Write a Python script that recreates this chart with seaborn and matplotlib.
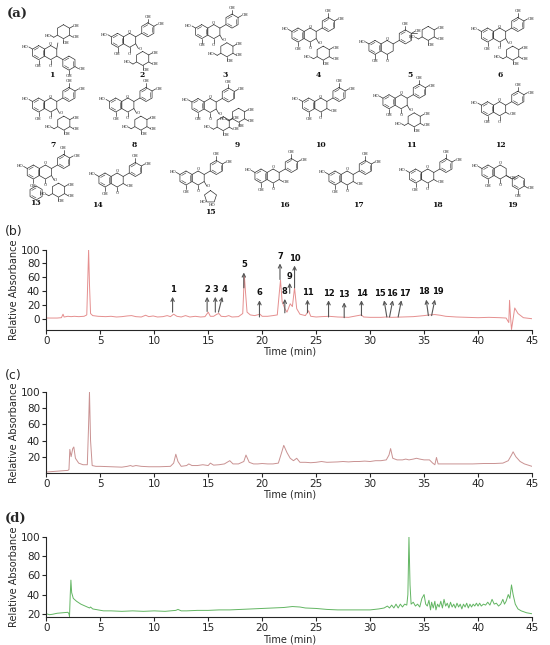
import math
import numpy as np
import pandas as pd
import matplotlib
matplotlib.use("Agg")
import matplotlib.pyplot as plt
import seaborn as sns

# ---------------- data ----------------
b_time = [0, 1.0, 1.4, 1.55, 1.65, 2.0, 2.3, 2.6, 3.0, 3.5, 3.75, 3.85, 3.92, 4.0, 4.1, 4.3, 4.8, 5.5, 6.0, 6.5,
          7.0, 7.5, 7.9, 8.3, 8.8, 9.2, 9.5, 9.9, 10.3, 10.8, 11.2, 11.5, 11.8, 12.1, 12.5, 12.9, 13.3, 13.8,
          14.3, 14.7, 15.0, 15.2, 15.5, 15.8, 16.0, 16.2, 16.6, 16.9, 17.2, 17.8, 18.2, 18.35, 18.45, 18.6,
          18.9, 19.3, 19.8, 20.0, 20.5, 21.0, 21.4, 21.6, 21.7, 21.85, 22.1, 22.3, 22.6, 22.8, 23.0, 23.2,
          23.5, 24.0, 24.3, 24.5, 25.0, 25.5, 26.2, 27.0, 28.0, 29.2, 29.4, 30.0, 31.0, 31.5, 32.0, 33.0,
          34.0, 35.0, 35.5, 36.0, 36.5, 37.0, 38.0, 39.0, 40.0, 41.0, 42.0, 42.6, 42.85, 42.92, 43.0, 43.1,
          43.2, 43.4, 43.7, 44.2, 45.0]
b_abs = [1.5, 1.5, 2, 7, 3, 4, 3.5, 4, 3.5, 4, 6, 60, 100, 50, 8, 5, 4, 3.5, 4, 3,
         3.5, 4.5, 5, 3.5, 3, 5.5, 3.5, 4.5, 3, 3.5, 5, 3.5, 7, 4, 3, 5, 3, 4,
         3, 3.5, 10, 4, 4, 7, 8, 4, 3.5, 5, 3, 3.5, 8, 63, 40, 10,
         6, 5, 7, 4, 4, 5, 6, 40, 56, 25, 15, 10, 22, 18, 45, 15,
         7, 5, 12, 4, 3, 3.5, 4, 3, 2.5, 6, 3, 2.5, 2.5, 3, 2.5, 3,
         3.5, 5, 6, 6.5, 5.5, 4, 3, 2.5, 2, 2.5, 2, 1.5, -5, 27, 5, -15,
         -5, 16, 8, 2, 0.5]

c_time = [0, 0.5, 1.0, 1.5, 2.0, 2.1, 2.18, 2.3, 2.45, 2.55, 2.7, 3.0, 3.4, 3.8, 3.92, 4.0, 4.1, 4.25, 4.6,
          5.0, 6.0, 7.0, 7.5, 7.8, 8.0, 8.3, 8.8, 9.5, 10.5, 11.5, 11.8, 12.0, 12.2, 12.5, 13.0, 13.2,
          13.5, 14.0, 14.5, 15.0, 15.2, 15.5, 16.0, 16.5, 17.0, 17.3, 17.8, 18.3, 18.5, 18.8, 19.2,
          19.6, 20.0, 20.5, 21.0, 21.5, 21.8, 22.0, 22.3, 22.6, 22.9, 23.2, 23.5, 24.0, 24.5, 25.0,
          25.5, 26.0, 27.0, 27.5, 28.0, 28.5, 29.0, 29.5, 30.0, 30.5, 31.0, 31.5, 31.75, 31.9, 32.1,
          32.5, 33.0, 33.3, 33.6, 34.0, 34.3, 34.6, 35.0, 35.5, 35.8, 36.0, 36.15, 36.3, 36.8, 37.5,
          38.5, 39.5, 40.5, 41.5, 42.3, 42.8, 43.1, 43.25, 43.5, 43.9, 44.3, 45.0]
c_abs = [1, 1.5, 2, 2.5, 3, 4, 29, 20, 30, 32, 18, 12, 10, 10, 60, 100, 40, 9, 8,
         8, 7.5, 7, 8, 9, 8, 9, 8, 7.5, 7.5, 8, 12, 23, 14, 8, 9, 11,
         9, 9, 10, 9, 12, 9.5, 10, 11, 15, 11, 11, 14, 22, 13, 11,
         11, 11.5, 11, 11, 12, 25, 34, 25, 18, 15, 18, 13, 13, 12.5, 13,
         14, 13, 13.5, 14, 13.5, 14, 14, 14.5, 14, 15, 15, 16, 22, 30, 18,
         16, 16, 17, 16, 17, 18, 17, 16, 16, 12, 10, 19, 11, 11, 11,
         11, 11, 11.5, 11.5, 12, 15, 22, 26, 20, 14, 11, 8]

d_time = [0, 0.3, 0.6, 1.0, 1.5, 2.0, 2.1, 2.15, 2.22, 2.28, 2.35, 2.5, 2.8, 3.2, 3.6, 4.0, 4.1, 4.3, 4.8,
          5.3, 6, 7, 8, 9, 10, 11, 12, 12.2, 12.5, 13, 14, 15, 16, 17, 18, 19, 20, 21, 22, 22.8, 23.5,
          24, 25, 26, 27, 28, 29, 30, 30.8, 31.3, 31.6, 31.8, 32.0, 32.2, 32.4, 32.6, 32.8, 33.0, 33.2,
          33.4, 33.5, 33.6, 33.7, 33.8, 34.0, 34.2, 34.4, 34.6, 34.8, 35.0, 35.15, 35.3, 35.45, 35.6,
          35.7, 35.85, 36.0, 36.1, 36.25, 36.4, 36.55, 36.7, 36.85, 37.0, 37.15, 37.3, 37.45, 37.6,
          37.75, 37.9, 38.05, 38.2, 38.35, 38.5, 38.65, 38.8, 38.95, 39.1, 39.25, 39.4, 39.55, 39.7,
          39.85, 40.0, 40.15, 40.3, 40.5, 40.7, 40.9, 41.1, 41.3, 41.5, 41.7, 41.9, 42.1, 42.3, 42.45,
          42.6, 42.8, 42.95, 43.1, 43.25, 43.45, 43.7, 44.0, 44.5, 45.0]
d_abs = [20, 19, 19.5, 20.5, 21, 21.5, 20, 17, 40, 55, 42, 36, 33, 30, 28, 26, 27, 25, 24,
         23, 23, 22.5, 23, 22.5, 23, 22.5, 23.5, 24.5, 23, 23, 23.5, 23.5, 24, 24, 24.5, 25, 25.5, 26, 26.5, 27.5, 27,
         26, 25.5, 24.5, 24, 24, 24, 24, 25, 26, 28, 26, 29, 26, 30, 26, 30, 27, 30,
         29, 40, 100, 50, 30, 32, 28, 30, 27, 36, 40, 30, 28, 34, 24,
         32, 26, 33, 24, 30, 27, 33, 26, 35, 28, 31, 26, 32, 27,
         30, 26, 31, 27, 30, 25, 30, 27, 31, 26, 30, 27, 30, 28,
         31, 28, 31, 28, 30, 29, 32, 29, 35, 30, 31, 28, 30, 35, 30,
         33, 40, 36, 50, 40, 30, 25, 23, 21, 20]

# peak annotations in (b): label, label x, arrow base x, base y, tip x, tip y, label y
pk_label = ["1", "2", "3", "4", "5", "6", "7", "8", "9", "10", "11", "12", "13", "14", "15", "16", "17", "18", "19"]
pk_lx = [11.7, 14.9, 15.7, 16.5, 18.3, 19.75, 21.65, 22.1, 22.55, 23.05, 24.2, 26.15, 27.6, 29.2, 30.9, 32.0, 33.2, 35.0, 36.3]
pk_bx = [11.7, 14.9, 15.66, 15.95, 18.3, 19.75, 21.65, 22.1, 22.55, 23.0, 24.2, 26.15, 27.6, 29.2, 31.55, 31.8, 32.6, 35.4, 35.7]
pk_by = [10, 11, 10, 10, 45, 3, 57, 9, 37, 45, 9, 3, 2, 5, 3, 3, 3, 5, 5]
pk_tx = [11.7, 14.9, 15.66, 16.3, 18.3, 19.75, 21.65, 22.1, 22.55, 23.0, 24.2, 26.15, 27.6, 29.2, 31.3, 32.1, 32.9, 35.2, 36.0]
pk_ty = [32, 32, 32, 32, 67, 27, 80, 29, 52, 77, 28, 27, 24, 27, 27, 27, 27, 28, 28]
pk_ly = [42, 42, 42, 42, 78, 38, 90, 40, 62, 87, 38, 37, 35, 37, 37, 37, 37, 39, 39]

x_ticks = [0, 5, 10, 15, 20, 25, 30, 35, 40, 45]

# compounds shown in panel (a): number, ring-A centre (px), ring-B direction, sugar type, label position (px)
cmp_num = [str(i) for i in range(1, 20)]
cmp_x = [38.6, 117.5, 201.7, 298, 375, 487.5, 38.6, 115.7, 198, 308.7, 389, 487.5, 33.3, 105, 186, 261, 335, 415.6, 488]
cmp_y = [52.6, 40.3, 31.6, 35, 47.4, 35, 105, 105, 105.5, 105, 101.7, 108.7, 172, 180, 178, 176, 178, 176, 172]
cmp_dir = ["down", "up", "up", "up", "up", "up", "up", "up", "up", "up", "up", "up", "up", "up", "up", "up", "up", "up", "down"]
cmp_sugar = ["above", "below", "below", "below", "ringB", "below", "below", "below", "below2", "none", "below", "none",
             "benz", "none", "ring5", "none", "none", "none", "none"]
cmp_lx = [52, 142, 225.5, 318, 410, 500, 52.6, 134, 237, 320, 411, 500.5, 35, 97, 210, 284, 358, 437, 512]
cmp_ly = [74.7, 74.7, 74.7, 74.7, 74.7, 74.7, 145, 145, 145, 145, 145, 145, 203, 205.4, 211.7, 205.4, 205.4, 205.4, 205.4]

# ---------------- style ----------------
sns.set_style("ticks")
plt.rcParams['font.family'] = ['DejaVu Sans']
plt.rcParams['axes.linewidth'] = 0.8

fig = plt.figure(figsize=(5.5, 6.45), dpi=100)
W, H = 550.0, 645.0


def add_axes_px(left, top, right, bottom):
    return fig.add_axes([left / W, 1 - bottom / H, (right - left) / W, (bottom - top) / H])


# ---------------- panel (a): structure sketches ----------------
axa = fig.add_axes([0, 1 - 222 / H, 1, 222 / H])
axa.set_xlim(0, W)
axa.set_ylim(222, 0)
axa.axis("off")
SC = "#333333"
R = 7.0
SER = ["DejaVu Serif"]


def hexv(cx, cy, r):
    return [(cx + r * math.cos(math.radians(a)), cy - r * math.sin(math.radians(a)))
            for a in (90, 150, 210, 270, 330, 30)]


def ring(cx, cy, r=R, arom=True):
    v = hexv(cx, cy, r)
    xs = [p[0] for p in v] + [v[0][0]]
    ys = [p[1] for p in v] + [v[0][1]]
    axa.plot(xs, ys, color=SC, lw=0.5)
    if arom:
        for i in (0, 2, 4):
            p, q = v[i], v[(i + 1) % 6]
            f = 0.72
            p2 = (cx + (p[0] - cx) * f, cy + (p[1] - cy) * f)
            q2 = (cx + (q[0] - cx) * f, cy + (q[1] - cy) * f)
            axa.plot([p2[0], q2[0]], [p2[1], q2[1]], color=SC, lw=0.4)
    return v


def bond(p, ang, length):
    q = (p[0] + length * math.cos(math.radians(ang)), p[1] - length * math.sin(math.radians(ang)))
    axa.plot([p[0], q[0]], [p[1], q[1]], color=SC, lw=0.5)
    return q


def lab(p, s, dx=0, dy=0, ha="center"):
    axa.text(p[0] + dx, p[1] + dy, s, fontsize=2.8, family=SER, ha=ha, va="center", color="#222222")


def sugar_ring(cx, cy, r=R):
    v = ring(cx, cy, r, arom=False)
    for i, ang in ((4, 330), (5, 30), (3, 270)):
        q = bond(v[i], ang, r * 0.6)
        lab(q, "OH", 3, 0)
    q = bond(v[2], 210, r * 0.6)
    q = bond(q, 150, r * 0.5)
    lab(q, "HO", -3, 0)
    return v


def flavone(x, y, bdir, sugar):
    A = (x, y)
    C = (x + math.sqrt(3) * R, y)
    vA = ring(*A)
    vC = ring(*C, arom=False)
    q = bond(vA[1], 150, R * 0.6)
    lab(q, "HO", -3.5, 0)
    q = bond(vA[3], 270, R * 0.6)
    lab(q, "OH", 0, 2.5)
    q = bond(vC[3], 270, R * 0.6)
    lab(q, "O", 0, 2.2)
    lab(vC[0], "O", 0, -1.5)
    if bdir == "up":
        start, ang = vC[5], 30
    else:
        start, ang = vC[4], -30
    p = bond(start, ang, R)
    Bc = (p[0] + R * math.cos(math.radians(ang)), p[1] - R * math.sin(math.radians(ang)))
    vB = ring(*Bc)
    if bdir == "up":
        q = bond(vB[5], 30, R * 0.6)
        lab(q, "OH", 3.5, 0)
        q = bond(vB[0], 90, R * 0.6)
        lab(q, "OH", 0, -2)
    else:
        q = bond(vB[4], -30, R * 0.6)
        lab(q, "OH", 3.5, 0)
        q = bond(vB[3], 270, R * 0.6)
        lab(q, "OH", 0, 2)
    if sugar in ("below", "below2", "benz"):
        o = bond(vC[4], 300, R * 0.8)
        lab(o, "O", 1.5, 0)
        sc = (o[0] + R * 0.6, o[1] + R * 1.4)
        sugar_ring(*sc)
        if sugar == "below2":
            sugar_ring(sc[0] + 2.2 * R, sc[1] - 1.2 * R)
        if sugar == "benz":
            ring(sc[0] - 3.2 * R, sc[1] + 0.4 * R)
    elif sugar == "above":
        o = bond(vC[5], 80, R * 0.9)
        sugar_ring(o[0] + 0.8 * R, o[1] - 1.6 * R)
    elif sugar == "ringB":
        o = bond(vB[5], 0, R * 0.8)
        sugar_ring(o[0] + 1.6 * R, o[1])
    elif sugar == "ring5":
        o = bond(vC[4], 300, R * 0.8)
        lab(o, "O", 1.5, 0)
        ang5 = [90 + 72 * k for k in range(5)]
        cx, cy = o[0] + R * 0.5, o[1] + R * 1.5
        pts = [(cx + R * 0.9 * math.cos(math.radians(a)), cy - R * 0.9 * math.sin(math.radians(a))) for a in ang5]
        axa.plot([p_[0] for p_ in pts] + [pts[0][0]], [p_[1] for p_ in pts] + [pts[0][1]], color=SC, lw=0.5)
        lab(pts[2], "HO", -3.5, 0)
        lab(pts[3], "HO", -2, 3)
    else:
        q = bond(vC[4], 330, R * 0.6)
        lab(q, "OH", 3.5, 0)


for i in range(len(cmp_num)):
    flavone(cmp_x[i], cmp_y[i], cmp_dir[i], cmp_sugar[i])
    axa.text(cmp_lx[i], cmp_ly[i], cmp_num[i], fontsize=5.5, family=SER, fontweight="bold",
             ha="center", va="center", color="#111111")

fig.text(7 / W, 1 - 14 / H, "(a)", fontsize=9.5, family=SER, fontweight="bold", ha="left", va="center")
fig.text(5 / W, 1 - 232 / H, "(b)", fontsize=9, ha="left", va="center")
fig.text(5 / W, 1 - 376 / H, "(c)", fontsize=9, ha="left", va="center")
fig.text(5 / W, 1 - 518 / H, "(d)", fontsize=9.5, family=SER, fontweight="bold", ha="left", va="center")


# ---------------- chromatograms ----------------
def style_axis(ax, ylim, yticks):
    ax.set_xlim(0, 45)
    ax.set_ylim(*ylim)
    ax.set_xticks(x_ticks)
    ax.set_yticks(yticks)
    sns.despine(ax=ax)
    ax.tick_params(labelsize=7.5, length=3, width=0.8, pad=1.5)
    ax.set_xlabel("Time (min)", fontsize=7, labelpad=0.5)
    ax.set_ylabel("Relative Absorbance", fontsize=7, labelpad=1)
    ax.spines['left'].set_bounds(ylim[0], 100)


axb = add_axes_px(46.3, 249.6, 532, 329.5)
df_b = pd.DataFrame({"Time": b_time, "Abs": b_abs})
sns.lineplot(data=df_b, x="Time", y="Abs", ax=axb, color="#e58f8f", lw=0.7, estimator=None)
style_axis(axb, (-15, 100), [0, 20, 40, 60, 80, 100])
for i in range(len(pk_label)):
    axb.annotate("", xy=(pk_tx[i], pk_ty[i]), xytext=(pk_bx[i], pk_by[i]),
                 arrowprops=dict(arrowstyle="->", color="#555555", lw=0.8, shrinkA=0, shrinkB=0,
                                 mutation_scale=6))
    axb.text(pk_lx[i], pk_ly[i], pk_label[i], fontsize=6, fontweight="bold", ha="center", va="center",
             color="#111111")

axc = add_axes_px(46.3, 392.1, 532, 472.8)
df_c = pd.DataFrame({"Time": c_time, "Abs": c_abs})
sns.lineplot(data=df_c, x="Time", y="Abs", ax=axc, color="#c99292", lw=0.7, estimator=None)
style_axis(axc, (0, 100), [20, 40, 60, 80, 100])

axd = add_axes_px(46.3, 536.9, 532, 617.2)
df_d = pd.DataFrame({"Time": d_time, "Abs": d_abs})
sns.lineplot(data=df_d, x="Time", y="Abs", ax=axd, color="#62b562", lw=0.7, estimator=None)
style_axis(axd, (16.4, 100), [20, 40, 60, 80, 100])

fig.savefig("out.png", dpi=100)
